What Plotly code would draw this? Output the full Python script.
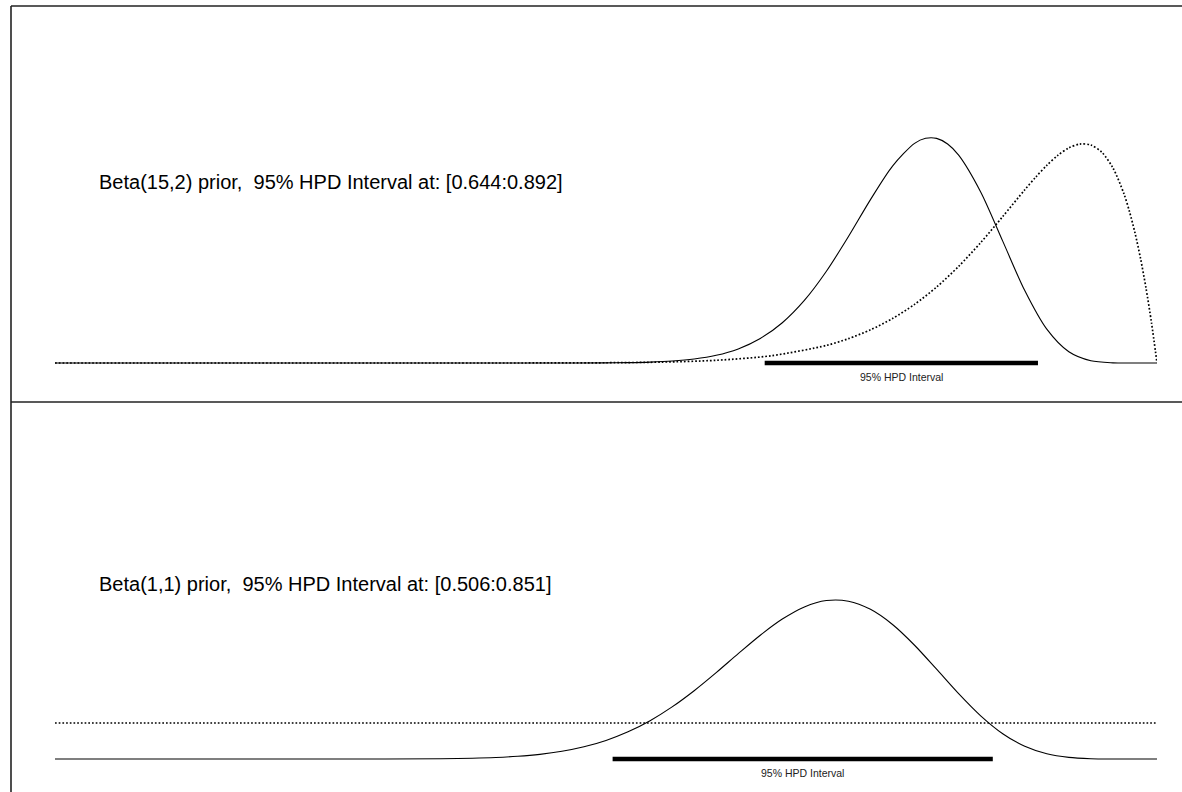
import plotly.graph_objects as go

# ---------------- data ----------------
# Top panel: Beta(15,2) prior (dotted) and posterior (solid)
top_post_x = [0.0, 0.40, 0.45, 0.50, 0.52, 0.54, 0.56, 0.58, 0.60, 0.62, 0.64, 0.66, 0.68,
              0.70, 0.72, 0.74, 0.76, 0.78, 0.79, 0.80, 0.81, 0.82, 0.84, 0.86, 0.88, 0.90,
              0.92, 0.94, 0.96, 0.98, 1.0]
top_post_y = [0.0, 0.0, 0.0004, 0.0045, 0.0109, 0.025, 0.054, 0.1105, 0.214, 0.392, 0.681,
              1.119, 1.738, 2.548, 3.513, 4.539, 5.470, 6.101, 6.242, 6.240, 6.084, 5.774,
              4.751, 3.386, 2.012, 0.939, 0.311, 0.061, 0.0046, 0.0, 0.0]

top_prior_x = [0.0, 0.40, 0.45, 0.50, 0.55, 0.60, 0.65, 0.70, 0.72, 0.74, 0.76, 0.78, 0.80,
               0.82, 0.84, 0.86, 0.88, 0.89, 0.90, 0.91, 0.92, 0.93, 0.94, 0.95, 0.96, 0.97,
               0.975, 0.98, 0.985, 0.99, 0.995, 1.0]
top_prior_y = [0.0, 0.0, 0.0018, 0.0073, 0.0251, 0.0752, 0.2018, 0.4883, 0.6764, 0.9213,
               1.2351, 1.629, 2.111, 2.685, 3.344, 4.068, 4.811, 5.165, 5.490, 5.768, 5.975,
               6.082, 6.055, 5.852, 5.421, 4.700, 4.210, 3.618, 2.913, 2.085, 1.119, 0.0]

# Bottom panel: Beta(1,1) prior (dotted, flat) and posterior (solid)
bot_post_x = [0.0, 0.30, 0.35, 0.40, 0.42, 0.44, 0.46, 0.48, 0.50, 0.52, 0.54, 0.56, 0.58,
              0.60, 0.62, 0.64, 0.66, 0.68, 0.70, 0.72, 0.74, 0.76, 0.78, 0.80, 0.82, 0.84,
              0.86, 0.88, 0.90, 0.92, 0.94, 0.96, 1.0]
bot_post_y = [0.0, 0.0009, 0.0075, 0.0416, 0.0752, 0.1297, 0.2142, 0.339, 0.5156, 0.7548,
              1.0644, 1.447, 1.897, 2.399, 2.926, 3.438, 3.887, 4.225, 4.402, 4.384, 4.157,
              3.736, 3.160, 2.494, 1.815, 1.199, 0.7023, 0.3529, 0.1443, 0.0440, 0.0085,
              0.0006, 0.0]

bot_prior_x = [0.0, 1.0]
bot_prior_y = [1.0, 1.0]

top_hpd = [0.644, 0.892]
bot_hpd = [0.506, 0.851]

top_label = "Beta(15,2) prior,  95% HPD Interval at: [0.644:0.892]"
bot_label = "Beta(1,1) prior,  95% HPD Interval at: [0.506:0.851]"
hpd_label = "95% HPD Interval"

# ---------------- layout geometry (page pixels) ----------------
# body margin is removed by the post script, so page pixels == figure pixels
W, H = 1182, 792
OX, OY = 0, 0
PLOT_LEFT, PLOT_RIGHT = 55, 1157
L = PLOT_LEFT - OX
R = W - (PLOT_RIGHT - OX)
PX_PER_UNIT = 36.0
DIVIDER = 402
TOP_BASE = 363
BOT_BASE = 759


def py(page_y):
    return 1 - (page_y - OY) / H


def pxp(page_x):
    return (page_x - OX - L) / (W - L - R)


top_range = [-(DIVIDER - TOP_BASE) / PX_PER_UNIT, (TOP_BASE - OY) / PX_PER_UNIT]
bot_range = [-(OY + H - BOT_BASE) / PX_PER_UNIT, (BOT_BASE - DIVIDER) / PX_PER_UNIT]

FONT = "Liberation Sans, Arial, Helvetica, sans-serif"

fig = go.Figure()

solid = dict(color="black", width=1.1, shape="spline", smoothing=0.8)
dotted = dict(color="black", width=1.7, dash="1.7px,2.0px", shape="spline", smoothing=0.8)

# top panel
fig.add_trace(go.Scatter(x=top_prior_x, y=top_prior_y, mode="lines", line=dotted,
                         xaxis="x", yaxis="y"))
fig.add_trace(go.Scatter(x=top_post_x, y=top_post_y, mode="lines", line=solid,
                         xaxis="x", yaxis="y"))
fig.add_trace(go.Scatter(x=top_hpd, y=[0, 0], mode="lines",
                         line=dict(color="black", width=4.5), xaxis="x", yaxis="y"))

# bottom panel
fig.add_trace(go.Scatter(x=bot_prior_x, y=bot_prior_y, mode="lines",
                         line=dict(color="black", width=1.7, dash="1.7px,2.0px"),
                         xaxis="x2", yaxis="y2"))
fig.add_trace(go.Scatter(x=bot_post_x, y=bot_post_y, mode="lines", line=solid,
                         xaxis="x2", yaxis="y2"))
fig.add_trace(go.Scatter(x=bot_hpd, y=[0, 0], mode="lines",
                         line=dict(color="black", width=4.5), xaxis="x2", yaxis="y2"))

ax = dict(visible=False, range=[0, 1], fixedrange=True)
fig.update_layout(
    width=W, height=H,
    margin=dict(l=L, r=R, t=0, b=0, pad=0),
    paper_bgcolor="white", plot_bgcolor="white",
    showlegend=False, hovermode=False,
    xaxis=dict(**ax, domain=[0, 1], anchor="y"),
    xaxis2=dict(**ax, domain=[0, 1], anchor="y2"),
    yaxis=dict(visible=False, range=top_range, domain=[py(DIVIDER), 1], fixedrange=True),
    yaxis2=dict(visible=False, range=bot_range, domain=[0, py(DIVIDER)], fixedrange=True),
)

LABEL_X = (97 - PLOT_LEFT) / (PLOT_RIGHT - PLOT_LEFT)
annotations = [
    dict(x=LABEL_X, y=(TOP_BASE - 182) / PX_PER_UNIT,
         xref="x", yref="y", text=top_label, showarrow=False, xanchor="left",
         yanchor="middle", font=dict(family=FONT, size=20, color="black")),
    dict(x=LABEL_X, y=(BOT_BASE - 584) / PX_PER_UNIT,
         xref="x2", yref="y2", text=bot_label, showarrow=False, xanchor="left",
         yanchor="middle", font=dict(family=FONT, size=20, color="black")),
    dict(x=sum(top_hpd) / 2, y=0, xref="x", yref="y", yshift=-14, text=hpd_label,
         showarrow=False, xanchor="center", yanchor="middle",
         font=dict(family=FONT, size=10.5, color="#222")),
    dict(x=sum(bot_hpd) / 2, y=0, xref="x2", yref="y2", yshift=-14, text=hpd_label,
         showarrow=False, xanchor="center", yanchor="middle",
         font=dict(family=FONT, size=10.5, color="#222")),
]
fig.update_layout(annotations=annotations)

frame = dict(color="#222", width=1.6)
fig.update_layout(shapes=[
    # top edge
    dict(type="line", xref="paper", yref="paper", x0=pxp(11), x1=pxp(W + 10),
         y0=py(6), y1=py(6), line=frame),
    # left edge
    dict(type="line", xref="paper", yref="paper", x0=pxp(11), x1=pxp(11),
         y0=py(6), y1=py(H + 10), line=frame),
    # divider between panels
    dict(type="line", xref="paper", yref="paper", x0=pxp(11), x1=pxp(W + 10),
         y0=py(DIVIDER), y1=py(DIVIDER), line=frame),
])

post = ("document.body.style.margin='0px';"
        "document.documentElement.style.overflow='hidden';"
        "document.body.style.overflow='hidden';")
fig.write_html("out.html", config={"displayModeBar": False, "staticPlot": True},
               post_script=post)
